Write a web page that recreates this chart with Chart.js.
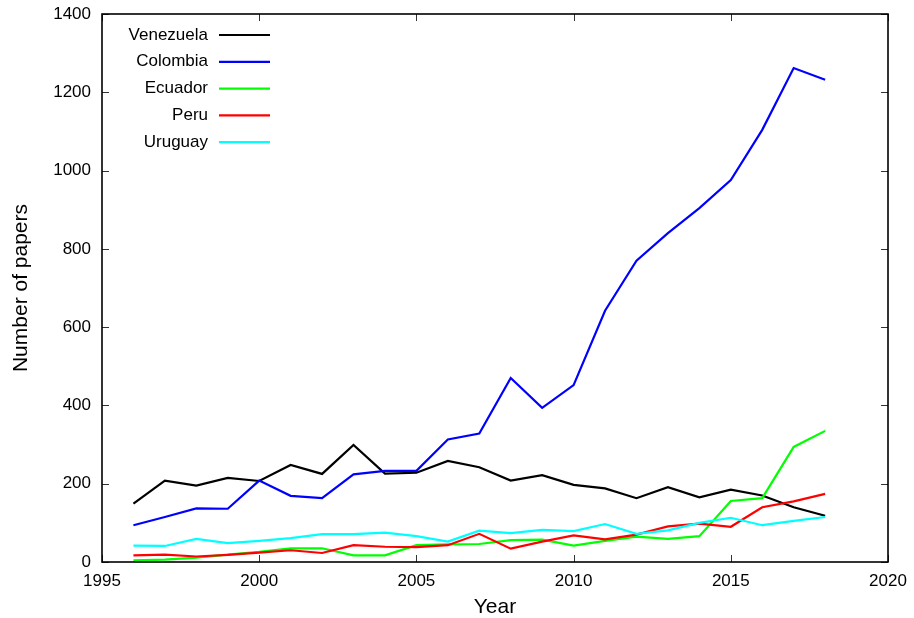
<!DOCTYPE html>
<html>
<head>
<meta charset="utf-8">
<script src="https://cdn.jsdelivr.net/npm/chart.js@4"></script>
<style>
html,body{margin:0;padding:0;background:#fff;}
#wrap{width:914px;height:618px;position:relative;}
</style>
</head>
<body>
<div id="wrap"><canvas id="c" width="914" height="618"></canvas></div>
<script>
const years = [1996,1997,1998,1999,2000,2001,2002,2003,2004,2005,2006,2007,2008,2009,2010,2011,2012,2013,2014,2015,2016,2017,2018];
const venezuela = [149,208,195,215,207,248,225,299,226,228,258,242,208,222,197,188,163,191,165,185,170,140,118];
const colombia  = [94,115,137,136,208,169,163,224,233,233,313,328,470,394,452,642,770,840,904,976,1104,1262,1232];
const ecuador   = [4,6,11,19,26,35,35,17,17,43,45,46,56,57,42,54,65,59,66,156,163,294,335];
const peru      = [17,19,14,18,24,30,23,43,39,38,43,72,34,52,68,58,70,91,98,90,140,155,174];
const uruguay   = [42,41,59,48,54,61,71,71,75,66,52,80,74,82,79,97,72,81,100,113,94,105,115];
const seriesNames = ["Venezuela","Colombia","Ecuador","Peru","Uruguay"];
const seriesColors = ["#000000","#0000ff","#00ff00","#ff0000","#00ffff"];
const xTicks = [1995,2000,2005,2010,2015,2020];
const yTicks = [0,200,400,600,800,1000,1200,1400];
const xTitle = "Year";
const yTitle = "Number of papers";

const allSeries = [venezuela, colombia, ecuador, peru, uruguay];
const datasets = allSeries.map((vals, i) => ({
  label: seriesNames[i],
  data: years.map((y, k) => ({x: y, y: vals[k]})),
  borderColor: seriesColors[i],
  backgroundColor: seriesColors[i],
  borderWidth: 2.2,
  pointRadius: 0,
  tension: 0,
  fill: false,
  order: allSeries.length - i
}));

const FONT = "'Liberation Sans', Arial, sans-serif";

const frame = {
  id: 'frame',
  afterDraw(chart) {
    const {ctx, chartArea: a, scales} = chart;
    ctx.save();
    ctx.strokeStyle = '#333';
    ctx.lineWidth = 1;
    const tl = 7;
    scales.x.ticks.forEach(t => {
      const px = Math.round(scales.x.getPixelForValue(t.value)) + 0.5;
      ctx.beginPath();
      ctx.moveTo(px, a.bottom); ctx.lineTo(px, a.bottom - tl);
      ctx.moveTo(px, a.top); ctx.lineTo(px, a.top + tl);
      ctx.stroke();
    });
    scales.y.ticks.forEach(t => {
      const py = Math.round(scales.y.getPixelForValue(t.value)) + 0.5;
      ctx.beginPath();
      ctx.moveTo(a.left, py); ctx.lineTo(a.left + tl, py);
      ctx.moveTo(a.right, py); ctx.lineTo(a.right - tl, py);
      ctx.stroke();
    });
    ctx.strokeStyle = '#000';
    ctx.lineWidth = 1.6;
    ctx.strokeRect(a.left, a.top, a.right - a.left, a.bottom - a.top);
    // legend
    ctx.font = '17px ' + FONT;
    ctx.textAlign = 'right';
    ctx.textBaseline = 'middle';
    seriesNames.forEach((n, i) => {
      const y = a.top + 21 + i * 26.8;
      ctx.fillStyle = '#000';
      ctx.fillText(n, 208, y);
      ctx.strokeStyle = seriesColors[i];
      ctx.lineWidth = 2.2;
      ctx.beginPath();
      ctx.moveTo(219, y); ctx.lineTo(270, y);
      ctx.stroke();
    });
    ctx.restore();
  }
};

new Chart(document.getElementById('c'), {
  type: 'line',
  data: { datasets },
  options: {
    responsive: false,
    animation: false,
    events: [],
    layout: { padding: { left: 0, top: 14, right: 26, bottom: 0 } },
    plugins: { legend: { display: false }, tooltip: { enabled: false } },
    scales: {
      x: {
        type: 'linear',
        min: 1995, max: 2020,
        afterBuildTicks: s => { s.ticks = xTicks.map(v => ({value: v})); },
        afterFit: s => { s.height = 56; s.paddingLeft = 0; s.paddingRight = 0; },
        grid: { display: false, drawTicks: false },
        border: { display: false },
        ticks: { color: '#000', font: { family: FONT, size: 17 }, padding: 9, maxRotation: 0, autoSkip: false, callback: v => String(v) },
        title: { display: true, text: xTitle, color: '#000', font: { family: FONT, size: 21 }, padding: { top: 0, bottom: -2 } }
      },
      y: {
        type: 'linear',
        min: 0, max: 1400,
        afterBuildTicks: s => { s.ticks = yTicks.map(v => ({value: v})); },
        afterFit: s => { s.width = 102; s.paddingTop = 0; s.paddingBottom = 0; },
        grid: { display: false, drawTicks: false },
        border: { display: false },
        ticks: { color: '#000', font: { family: FONT, size: 17 }, padding: 11, autoSkip: false, callback: v => String(v) },
        title: { display: true, text: yTitle, color: '#000', font: { family: FONT, size: 21 }, padding: { top: 9, bottom: 0 } }
      }
    }
  },
  plugins: [frame]
});
</script>
</body>
</html>
